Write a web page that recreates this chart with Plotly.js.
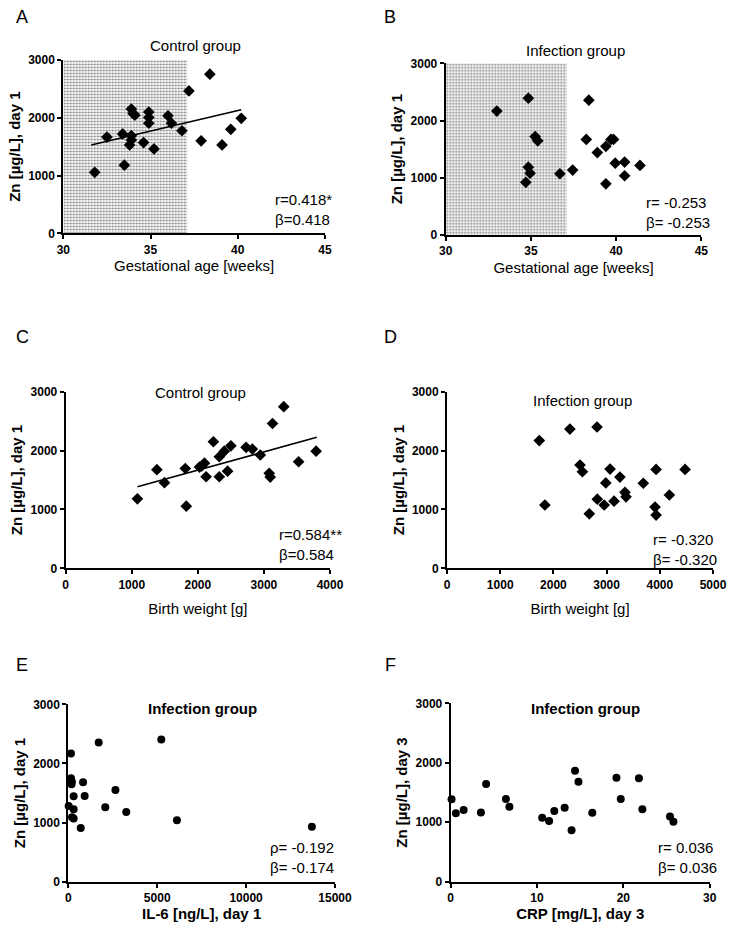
<!DOCTYPE html>
<html>
<head>
<meta charset="utf-8">
<script src="https://cdn.plot.ly/plotly-3.0.1.min.js"></script>
<style>
  html, body { margin: 0; padding: 0; background: #fff; }
  #chart { width: 736px; height: 928px; }
</style>
</head>
<body>
<div id="chart"></div>
<script>
// A: gestational age vs Zn day 1, control group
var gaCtrl = [31.8, 32.5, 33.4, 33.5, 33.8, 33.9, 33.9, 33.9, 34.0, 34.1, 34.6, 34.9, 34.9, 34.9, 35.2, 36.0, 36.2, 36.8, 37.2, 37.9, 38.4, 39.1, 39.6, 40.2];
var znCtrlGa = [1055, 1665, 1720, 1180, 1530, 1690, 1615, 2150, 2075, 2045, 1570, 2100, 2005, 1905, 1460, 2035, 1905, 1775, 2465, 1600, 2755, 1530, 1800, 1990];
var fitGaX = [31.6, 40.2];
var fitGaY = [1530, 2140];

// B: gestational age vs Zn day 1, infection group
var gaInf = [33.0, 34.7, 34.85, 34.85, 34.95, 35.25, 35.4, 36.7, 37.45, 38.25, 38.4, 38.9, 39.4, 39.4, 39.7, 39.85, 39.95, 40.5, 40.5, 41.4];
var znInfGa = [2165, 920, 2390, 1185, 1080, 1720, 1645, 1070, 1135, 1670, 2355, 1440, 1550, 895, 1670, 1670, 1255, 1275, 1035, 1215];

// preterm band (weeks)
var pretermBand = [30, 37.1];

// C: birth weight vs Zn day 1, control group
var bwCtrl = [1085, 1380, 1495, 1810, 1825, 2025, 2060, 2100, 2125, 2235, 2325, 2325, 2400, 2450, 2500, 2730, 2825, 2945, 3080, 3095, 3130, 3300, 3525, 3790];
var znCtrlBw = [1180, 1675, 1455, 1695, 1055, 1720, 1740, 1785, 1555, 2150, 1895, 1555, 1990, 1650, 2080, 2055, 2025, 1925, 1615, 1550, 2460, 2745, 1810, 1990];
var fitBwX = [1085, 3800];
var fitBwY = [1385, 2225];

// D: birth weight vs Zn day 1, infection group
var bwInf = [1735, 1840, 2310, 2500, 2545, 2675, 2820, 2825, 2955, 2985, 3065, 3140, 3250, 3345, 3365, 3690, 3910, 3930, 3930, 4180, 4475];
var znInfBw = [2170, 1075, 2365, 1755, 1640, 925, 2400, 1175, 1075, 1450, 1685, 1140, 1550, 1290, 1215, 1445, 1040, 1680, 905, 1245, 1680];

// E: IL-6 day 1 vs Zn day 1
var il6 = [20, 150, 150, 180, 200, 210, 300, 300, 300, 700, 830, 920, 1710, 2080, 2650, 3260, 5230, 6110, 13700];
var znIl6 = [1280, 2170, 1750, 1650, 1690, 1090, 1445, 1225, 1070, 910, 1680, 1450, 2355, 1260, 1550, 1180, 2405, 1040, 930];

// F: CRP day 3 vs Zn day 3
var crp = [0.1, 0.6, 1.5, 3.5, 4.1, 6.4, 6.8, 10.6, 11.4, 12.0, 13.2, 14.0, 14.4, 14.8, 16.4, 19.2, 19.7, 21.8, 22.2, 25.4, 25.8];
var znCrp = [1385, 1150, 1205, 1165, 1645, 1390, 1260, 1075, 1020, 1190, 1245, 865, 1865, 1680, 1160, 1750, 1390, 1740, 1220, 1095, 1010];

var W = 736, H = 928;
function px(x) { return x / W; }
function py(y) { return 1 - y / H; }

var FONT = 'Liberation Sans, Arial, sans-serif';
var black = '#000';

function dia(x, y, xa, ya) {
  return {x: x, y: y, xaxis: xa, yaxis: ya, type: 'scatter', mode: 'markers',
    marker: {symbol: 'diamond', size: 9, color: black}, cliponaxis: false, hoverinfo: 'x+y'};
}
function dot(x, y, xa, ya) {
  return {x: x, y: y, xaxis: xa, yaxis: ya, type: 'scatter', mode: 'markers',
    marker: {symbol: 'circle', size: 8, color: black}, cliponaxis: false, hoverinfo: 'x+y'};
}
function fit(x, y, xa, ya) {
  return {x: x, y: y, xaxis: xa, yaxis: ya, type: 'scatter', mode: 'lines',
    line: {color: black, width: 1.6}, hoverinfo: 'skip'};
}
function band(xa, ya) {
  return {x: [(pretermBand[0] + pretermBand[1]) / 2], y: [3000], width: [pretermBand[1] - pretermBand[0]],
    xaxis: xa, yaxis: ya, type: 'bar', hoverinfo: 'skip',
    marker: {color: '#fff', line: {width: 0},
      pattern: {shape: '.', fgcolor: '#808080', bgcolor: '#fff', size: 3, solidity: 0.4}}};
}

var traces = [
  band('x', 'y'), dia(gaCtrl, znCtrlGa, 'x', 'y'), fit(fitGaX, fitGaY, 'x', 'y'),
  band('x2', 'y2'), dia(gaInf, znInfGa, 'x2', 'y2'),
  dia(bwCtrl, znCtrlBw, 'x3', 'y3'), fit(fitBwX, fitBwY, 'x3', 'y3'),
  dia(bwInf, znInfBw, 'x4', 'y4'),
  dot(il6, znIl6, 'x5', 'y5'),
  dot(crp, znCrp, 'x6', 'y6')
];

function xAxis(l, r, anchor, range, dtick, title, bold, standoff) {
  return {domain: [px(l), px(r)], anchor: anchor, range: range, dtick: dtick, tick0: range[0],
    tickformat: 'd',
    showgrid: false, zeroline: false, showline: true, linecolor: black, linewidth: 2,
    ticks: 'outside', ticklen: 4, tickwidth: 2, tickcolor: black,
    tickfont: {family: FONT, size: 12, color: black, weight: 'bold'},
    title: {text: title, standoff: standoff,
      font: {family: FONT, size: 15, color: black, weight: bold ? 'bold' : 'normal'}},
    automargin: false, fixedrange: true};
}
function yAxis(t, b, anchor, title, standoff) {
  return {domain: [py(b), py(t)], anchor: anchor, range: [0, 3000], dtick: 1000, tick0: 0,
    tickformat: 'd',
    showgrid: false, zeroline: false, showline: true, linecolor: black, linewidth: 2,
    ticks: 'outside', ticklen: 4, tickwidth: 2, tickcolor: black,
    tickfont: {family: FONT, size: 12, color: black, weight: 'bold'},
    title: {text: title, standoff: standoff,
      font: {family: FONT, size: 15, color: black, weight: 'bold'}},
    automargin: false, fixedrange: true};
}

var yDay1 = 'Zn [µg/L], day 1';
var yDay3 = 'Zn [µg/L], day 3';

function note(x, y, text, size, bold, anchor) {
  return {xref: 'paper', yref: 'paper', x: px(x), y: py(y), text: text, showarrow: false,
    xanchor: anchor || 'left', yanchor: 'middle', align: 'left',
    font: {family: FONT, size: size, color: black, weight: bold ? 'bold' : 'normal'}};
}

var layout = {
  width: W, height: H,
  margin: {l: 0, r: 0, t: 0, b: 0},
  paper_bgcolor: '#fff', plot_bgcolor: 'rgba(0,0,0,0)',
  showlegend: false, barmode: 'overlay',
  xaxis: xAxis(63.3, 325, 'y', [30, 45], 5, 'Gestational age [weeks]', false, 5),
  yaxis: yAxis(60, 233.3, 'x', yDay1, 4),
  xaxis2: xAxis(445.7, 701.3, 'y2', [30, 45], 5, 'Gestational age [weeks]', false, 5),
  yaxis2: yAxis(63.3, 235, 'x2', yDay1, 4),
  xaxis3: xAxis(65.7, 330, 'y3', [0, 4000], 1000, 'Birth weight [g]', false, 13),
  yaxis3: yAxis(391.7, 568.3, 'x3', yDay1, 4),
  xaxis4: xAxis(447, 713, 'y4', [0, 5000], 1000, 'Birth weight [g]', false, 13),
  yaxis4: yAxis(391.7, 568.3, 'x4', yDay1, 4),
  xaxis5: xAxis(68.3, 335, 'y5', [0, 15000], 5000, 'IL-6 [ng/L], day 1', true, 3),
  yaxis5: yAxis(704.3, 881.7, 'x5', yDay1, 4),
  xaxis6: xAxis(450.7, 709.7, 'y6', [0, 30], 10, 'CRP [mg/L], day 3', true, 3),
  yaxis6: yAxis(703.3, 881.7, 'x6', yDay3, 4),
  annotations: [
    note(22, 17, 'A', 18, false, 'center'),
    note(390, 17, 'B', 18, false, 'center'),
    note(22, 337, 'C', 18, false, 'center'),
    note(390, 337, 'D', 18, false, 'center'),
    note(22, 665, 'E', 18, false, 'center'),
    note(390, 665, 'F', 18, false, 'center'),
    note(195, 46, 'Control group', 15, false, 'center'),
    note(575, 51, 'Infection group', 15, false, 'center'),
    note(200, 393, 'Control group', 15, false, 'center'),
    note(582, 400, 'Infection group', 15, false, 'center'),
    note(202, 708, 'Infection group', 15, true, 'center'),
    note(585, 708, 'Infection group', 15, true, 'center'),
    note(273, 209, 'r=0.418*<br>β=0.418', 15, false),
    note(644, 212, 'r= -0.253<br>β= -0.253', 15, false),
    note(277, 544, 'r=0.584**<br>β=0.584', 15, false),
    note(651, 549, 'r= -0.320<br>β= -0.320', 15, false),
    note(268, 857, 'ρ= -0.192<br>β= -0.174', 15, false),
    note(656, 857, 'r= 0.036<br>β= 0.036', 15, false)
  ]
};

Plotly.newPlot('chart', traces, layout, {displayModeBar: false, staticPlot: true});
</script>
</body>
</html>
